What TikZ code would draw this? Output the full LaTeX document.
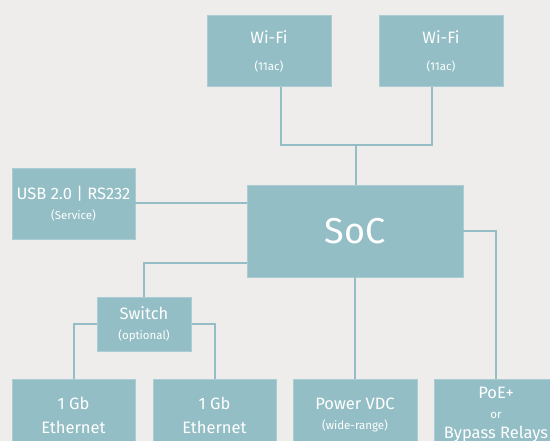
\documentclass[tikz,border=0pt]{standalone}
\usepackage{fontspec}
\setmainfont{Fira Sans}
\usepackage{tikz}
\usetikzlibrary{calc,positioning}

\definecolor{boxteal}{HTML}{93BEC5}
\definecolor{boxedge}{HTML}{A9CDD3}
\definecolor{paper}{HTML}{EFEDEB}

\begin{document}
\begin{tikzpicture}[x=1pt,y=-1pt]

\tikzset{block/.style={fill=boxteal,draw=boxedge,line width=0.6pt,text=white,align=center,
  inner sep=0,font=\fontsize{16.5}{20}\selectfont},
link/.style={draw=boxteal,line width=2pt}}

\newcommand{\sub}[1]{{\fontsize{11.5}{13}\selectfont #1}}

% page
\fill[paper] (0,0) rectangle (550,441);
\clip (0,0) rectangle (550,441);

% Top radios
\node (wifiA) [block,minimum width=124,minimum height=71] at (269,51) {Wi-Fi\\[7pt]\sub{(11ac)}};
\node (wifiB) [block,minimum width=124,minimum height=71] at (441,51) {Wi-Fi\\[7pt]\sub{(11ac)}};

% Centre
\node (soc) [block,minimum width=216,minimum height=92,font=\fontsize{36}{42}\selectfont] at (355,231) {SoC};
\node (usb) [block,minimum width=123,minimum height=71] at (73.5,203.5) {USB 2.0 | RS232\\\sub{(Service)}};
\node (switch) [block,minimum width=94,minimum height=54] at (144,324) {Switch\\\sub{(optional)}};

% Bottom row
\node (ethA) [block,minimum width=123,minimum height=72] at (73.5,415) {1 Gb\\[4pt]Ethernet};
\node (ethB) [block,minimum width=123,minimum height=72] at (214.5,415) {1 Gb\\[4pt]Ethernet};
\node (power) [block,minimum width=124,minimum height=72] at (355,415) {Power VDC\\\sub{(wide-range)}};
\node (poe) [block,minimum width=124,minimum height=72] at (496,415) {PoE+\\\sub{or}\\Bypass Relays};

%% Links
\coordinate (wifijoin) at (356,145);
\draw[link] ($(wifiA.south)+(12,0)$) |- (wifijoin) -| ($(wifiB.south)+(-9,0)$);
\draw[link] (wifijoin) -- (wifijoin |- soc.north);
\draw[link] (usb.east) -- (usb.east -| soc.west);
\draw[link] ($(soc.south west)+(0,-14)$) -| (switch.north);
\foreach \eth in {ethA, ethB}
	\draw[link] (switch) -| (\eth.north);
\draw[link] (soc.south) -- (power.north);
\draw[link] (soc.east) -| (poe.north);

% redraw switch over its links
\node [block,minimum width=94,minimum height=54] at (switch) {Switch\\\sub{(optional)}};
\end{tikzpicture}
\end{document}
